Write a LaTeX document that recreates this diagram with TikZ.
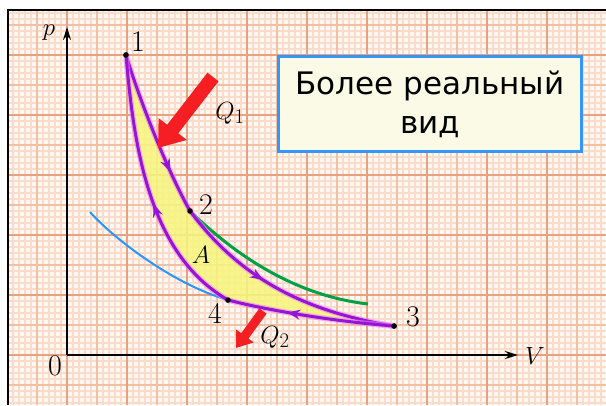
\documentclass[tikz,border=0pt]{standalone}
\usepackage{fontspec}
\newfontfamily\boxfont{DejaVu Sans}
\usetikzlibrary{arrows.meta,decorations.markings}
\definecolor{paper}{RGB}{255,247,242}
\definecolor{fineline}{RGB}{251,220,202}
\definecolor{midline}{RGB}{242,192,165}
\definecolor{majorline}{RGB}{232,162,128}
\definecolor{cyclepurple}{RGB}{150,20,215}
\definecolor{cycleglow}{RGB}{235,130,235}
\definecolor{workyellow}{RGB}{246,246,125}
\definecolor{adiagreen}{RGB}{0,160,70}
\definecolor{isoblue}{RGB}{40,150,255}
\definecolor{heatred}{RGB}{245,30,35}
\definecolor{boxfill}{RGB}{250,250,230}
\definecolor{boxblue}{RGB}{50,150,250}
\begin{document}
\begin{tikzpicture}[x=1pt, y=-1pt,
    dot/.style={circle, fill=black, minimum size=5.5pt, inner sep=0pt},
    num/.style={font=\fontsize{30}{32}\selectfont, inner sep=0pt},
    cycle/.style={draw=cyclepurple, line width=3pt, line cap=round,
        preaction={draw=cycleglow, line width=5.5pt, opacity=0.6}},
    mid arrow/.style={postaction={decorate, decoration={markings,
        mark=at position #1 with {\arrow{Stealth[length=13pt,width=10pt]}}}}},
    heat/.style={draw=heatred, line width=#1},
    infobox/.style={draw=boxblue, line width=3pt, fill=boxfill,
        minimum width=303pt, minimum height=95pt, align=center,
        font=\boxfont\fontsize{31}{39}\selectfont}
]
\useasboundingbox (0,0) rectangle (606,405);
\fill[paper] (8,10) rectangle (606,405);
\foreach \x in {13,19,...,601} \draw[fineline, line width=1.6pt] (\x,10) -- (\x,405);
\foreach \y in {13,19,...,403} \draw[fineline, line width=1.6pt] (8,\y) -- (606,\y);
\foreach \x in {37,97,...,577} \draw[midline, line width=1.2pt] (\x,10) -- (\x,405);
\foreach \y in {25,85,...,385} \draw[midline, line width=1.2pt] (8,\y) -- (606,\y);
\foreach \x in {67,127,...,547} \draw[majorline, line width=1.4pt] (\x,10) -- (\x,405);
\foreach \y in {55,115,...,355} \draw[majorline, line width=1.4pt] (8,\y) -- (606,\y);
\draw[line width=2pt] (8,405) -- (8,10) -- (606,10);

\coordinate (o) at (67,355);
\coordinate (ptop) at (67,27);
\coordinate (vend) at (518,355);
\draw[line width=1.8pt, -{Stealth[length=13pt,width=8pt]}] (o) -- (ptop);
\draw[line width=1.8pt, -{Stealth[length=13pt,width=8pt]}] (o) -- (vend);

\node[dot] (p1) at (126,55) {};
\node[dot] (p2) at (190,211) {};
\node[dot] (p3) at (394,326) {};
\node[dot] (p4) at (228,300) {};
\coordinate (g3) at (368,304);
\coordinate (b0) at (90,212);

\fill[workyellow, opacity=0.85] (p1.center) .. controls (138,95) and (165,166) .. (p2.center)
    .. controls (235,271) and (294,310) .. (p3.center)
    .. controls (340,322) and (270,311) .. (p4.center)
    .. controls (150,255) and (134,150) .. (p1.center) -- cycle;

\draw[isoblue, line width=2pt] (b0) .. controls (115,240) and (175,285) .. (p4.center);
\draw[adiagreen, line width=3pt] (p2.center) .. controls (230,250) and (290,295) .. (g3);

\draw[cycle, mid arrow=0.74] (p1.center) .. controls (138,95) and (165,166) .. (p2.center);
\draw[cycle, mid arrow=0.42] (p2.center) .. controls (235,271) and (294,310) .. (p3.center);
\draw[cycle, mid arrow=0.64] (p3.center) .. controls (340,322) and (270,311) .. (p4.center);
\draw[cycle, mid arrow=0.45] (p4.center) .. controls (150,255) and (134,150) .. (p1.center);

\node[dot] at (p1) {};
\node[dot] at (p2) {};
\node[dot] at (p3) {};
\node[dot] at (p4) {};

\node[num] (l1) at (138,42) {1};
\node[num] (l2) at (206,205) {2};
\node[num] (l3) at (413,317) {3};
\node[num] (l4) at (215,313) {4};
\node[num] (l0) at (55,366) {0};
\node[num] (lp) at (49,33) {$p$};
\node[num] (lv) at (535,356) {$V$};
\node[num] (la) at (201,255) {$A$};
\node[num, font=\fontsize{31}{33}\selectfont] (q1) at (230,113) {$Q_1$};
\node[num, font=\fontsize{31}{33}\selectfont] (q2) at (275,337) {$Q_2$};

\coordinate (q1a) at (213,77);
\coordinate (q1b) at (158,148);
\coordinate (q2a) at (263,311);
\coordinate (q2b) at (236,348);
\draw[heat=14pt, -{Triangle[length=24pt,width=34pt]}] (q1a) -- (q1b);
\draw[heat=9pt, -{Triangle[length=15pt,width=21pt]}] (q2a) -- (q2b);

\node[infobox] (box) at (430,104) {Более реальный\\вид};
\end{tikzpicture}
\end{document}
